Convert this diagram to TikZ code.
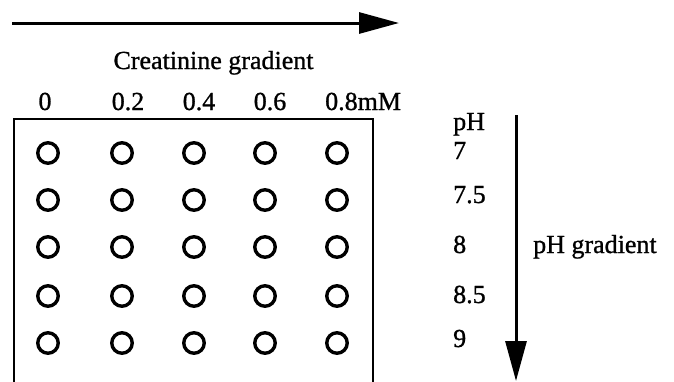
\documentclass[tikz,border=0pt]{standalone}
\usepackage{fontspec}
\setmainfont{Liberation Serif}[FakeBold=1]
\usetikzlibrary{arrows.meta}
\tikzset{
  well/.style={circle, draw, line width=3.4pt, minimum size=20.5pt, inner sep=0pt},
  lbl/.style={inner sep=0pt, font=\fontsize{26}{30}\selectfont},
  bigarrow/.style={line width=3pt, -{Triangle[length=40pt, width=21pt]}},
  frame/.style={line width=2.8pt}
}
\begin{document}
\begin{tikzpicture}[x=1pt, y=-1pt]
  \useasboundingbox (0,0) rectangle (674,381);

  % creatinine direction
  \coordinate (hs) at (12,23);
  \coordinate (he) at (399,23);
  \draw[bigarrow] (hs) -- (he);
  \node[lbl, anchor=base] (ctitle) at (213.5,69) {Creatinine gradient};

  % concentration labels
  \node[lbl, anchor=base] (k0) at (45,110) {0};
  \node[lbl, anchor=base] (k2) at (128,110) {0.2};
  \node[lbl, anchor=base] (k4) at (199,110) {0.4};
  \node[lbl, anchor=base] (k6) at (270,110) {0.6};
  \node[lbl, anchor=base west] (k8) at (325,110) {0.8mM};

  % plate outline, open at the bottom
  \draw[frame] (14,383) |- (373,119) -- (373,383);

  % wells
  \foreach \c/\x in {1/48,2/122,3/194,4/265,5/337}{
    \foreach \r/\y in {1/153,2/200,3/247,4/296,5/343}{
      \node[well] (w\r\c) at (\x,\y) {};
    }
  }

  % pH labels
  \node[lbl, anchor=base west] (ph) at (453,130) {pH};
  \node[lbl, anchor=base west] (p70) at (453,159) {7};
  \node[lbl, anchor=base west] (p75) at (453,203) {7.5};
  \node[lbl, anchor=base west] (p80) at (453,253) {8};
  \node[lbl, anchor=base west] (p85) at (453,303) {8.5};
  \node[lbl, anchor=base west] (p90) at (453,347) {9};

  % pH direction
  \coordinate (vs) at (516,115);
  \coordinate (ve) at (516,381);
  \draw[bigarrow] (vs) -- (ve);
  \node[lbl, anchor=base west] (ptitle) at (533,253) {pH gradient};
\end{tikzpicture}
\end{document}
